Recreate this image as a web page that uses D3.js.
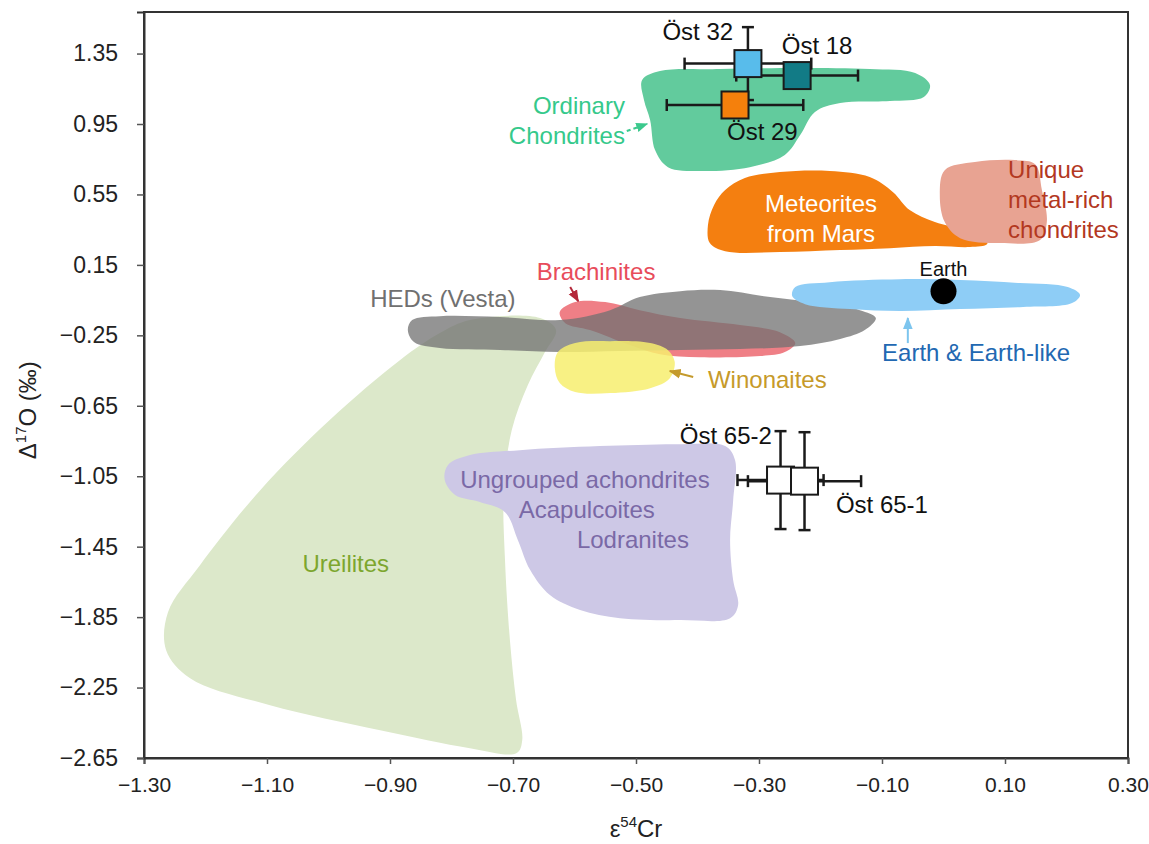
<!DOCTYPE html>
<html>
<head>
<meta charset="utf-8">
<script src="https://cdn.jsdelivr.net/npm/d3@7"></script>
<style>
  html, body { margin: 0; padding: 0; background: #ffffff; }
  svg { display: block; font-family: "Liberation Sans", Arial, Helvetica, sans-serif; }
</style>
</head>
<body>
<svg id="chart" width="1149" height="844"></svg>
<script>
// ε54Cr vs Δ17O fields for meteorite groups, with the Öst samples plotted on top.

// Axis ticks
const xTicks = [-1.30, -1.10, -0.90, -0.70, -0.50, -0.30, -0.10, 0.10, 0.30];
const yTicks = [1.35, 0.95, 0.55, 0.15, -0.25, -0.65, -1.05, -1.45, -1.85, -2.25, -2.65];

// Group fields: outline vertices as [ε54Cr, Δ17O]
const ureilites = [[-0.770,-0.163],[-0.656,-0.152],[-0.630,-0.220],[-0.648,-0.345],[-0.676,-0.533],[-0.702,-0.788],[-0.715,-1.129],[-0.713,-1.526],[-0.705,-1.981],[-0.695,-2.321],[-0.685,-2.549],[-0.694,-2.622],[-0.770,-2.594],[-0.916,-2.492],[-1.095,-2.350],[-1.225,-2.197],[-1.264,-2.038],[-1.261,-1.822],[-1.209,-1.555],[-1.111,-1.129],[-0.998,-0.731],[-0.884,-0.391],[-0.819,-0.237]];
const ungrouped = [[-0.806,-0.987],[-0.770,-0.930],[-0.689,-0.902],[-0.559,-0.879],[-0.428,-0.868],[-0.355,-0.879],[-0.339,-0.958],[-0.342,-1.186],[-0.347,-1.413],[-0.342,-1.640],[-0.334,-1.782],[-0.347,-1.856],[-0.428,-1.867],[-0.526,-1.856],[-0.591,-1.810],[-0.640,-1.725],[-0.672,-1.583],[-0.692,-1.413],[-0.713,-1.254],[-0.754,-1.197],[-0.794,-1.157],[-0.811,-1.072]];
const brachinites = [[-0.624,-0.118],[-0.599,-0.061],[-0.550,-0.061],[-0.494,-0.107],[-0.428,-0.152],[-0.331,-0.192],[-0.266,-0.232],[-0.241,-0.294],[-0.258,-0.345],[-0.298,-0.368],[-0.396,-0.374],[-0.461,-0.357],[-0.510,-0.305],[-0.575,-0.220],[-0.615,-0.181]];
const heds = [[-0.864,-0.163],[-0.819,-0.141],[-0.721,-0.146],[-0.624,-0.163],[-0.542,-0.107],[-0.494,-0.033],[-0.428,0.001],[-0.363,0.007],[-0.282,-0.033],[-0.201,-0.067],[-0.136,-0.107],[-0.110,-0.152],[-0.128,-0.220],[-0.168,-0.271],[-0.233,-0.311],[-0.331,-0.328],[-0.428,-0.333],[-0.526,-0.339],[-0.624,-0.345],[-0.721,-0.333],[-0.819,-0.322],[-0.861,-0.288],[-0.871,-0.220]];
const winonaites = [[-0.627,-0.345],[-0.599,-0.294],[-0.542,-0.283],[-0.477,-0.294],[-0.448,-0.334],[-0.437,-0.402],[-0.445,-0.493],[-0.477,-0.550],[-0.542,-0.578],[-0.599,-0.572],[-0.624,-0.521],[-0.632,-0.436]];
const earthLike = [[-0.241,0.024],[-0.185,0.052],[-0.071,0.069],[0.027,0.064],[0.124,0.047],[0.202,0.024],[0.222,-0.021],[0.209,-0.067],[0.124,-0.090],[0.027,-0.101],[-0.071,-0.112],[-0.152,-0.101],[-0.225,-0.073],[-0.246,-0.027]];
const mars = [[-0.355,0.575],[-0.323,0.643],[-0.266,0.677],[-0.185,0.683],[-0.120,0.649],[-0.082,0.563],[-0.055,0.461],[-0.014,0.393],[0.035,0.348],[0.067,0.308],[0.071,0.268],[0.043,0.251],[-0.014,0.257],[-0.087,0.245],[-0.168,0.234],[-0.266,0.223],[-0.355,0.228],[-0.380,0.274],[-0.383,0.376],[-0.373,0.490]];
const metalRich = [[0.002,0.688],[0.051,0.734],[0.116,0.745],[0.149,0.722],[0.160,0.575],[0.168,0.393],[0.157,0.291],[0.092,0.274],[0.027,0.302],[0.002,0.393],[-0.006,0.546]];
const ordinary = [[-0.490,1.200],[-0.461,1.251],[-0.363,1.262],[-0.233,1.268],[-0.120,1.262],[-0.046,1.239],[-0.022,1.171],[-0.032,1.103],[-0.087,1.080],[-0.168,1.069],[-0.209,1.018],[-0.233,0.887],[-0.258,0.774],[-0.315,0.705],[-0.396,0.683],[-0.448,0.705],[-0.469,0.802],[-0.477,0.972],[-0.487,1.086]];

// Samples: ε54Cr, Δ17O and their uncertainties
const sampleNames = ["Öst 32", "Öst 18", "Öst 29", "Öst 65-2", "Öst 65-1"];
const sampleCr    = [-0.318, -0.238, -0.339, -0.265, -0.226];
const sampleCrErr = [0.103, 0.099, 0.111, 0.070, 0.092];
const sampleO     = [1.293, 1.225, 1.058, -1.072, -1.078];
const sampleOErr  = [0.207, 0.060, 0.060, 0.278, 0.278];
const sampleFill  = ["#58BCEB", "#127B86", "#F5800C", "#ffffff", "#ffffff"];

// Earth reference point
const earth = [0.0, 0.0];

const svg = d3.select("#chart");
const W = 1149, H = 844;
const margin = { left: 144, right: 21, top: 12, bottom: 86 };

const x = d3.scaleLinear().domain([-1.30, 0.30]).range([margin.left, W - margin.right]);
const y = d3.scaleLinear().domain([-2.65, 1.586]).range([H - margin.bottom, margin.top]);

const defs = svg.append("defs");
function marker(id, color) {
  defs.append("marker")
    .attr("id", id).attr("viewBox", "0 0 10 10")
    .attr("refX", 9).attr("refY", 5)
    .attr("markerWidth", 6).attr("markerHeight", 6)
    .attr("orient", "auto-start-reverse")
    .append("path").attr("d", "M0,1 L10,5 L0,9 Z").attr("fill", color);
}
marker("arr-green", "#3CC98D");
marker("arr-red", "#B4283A");
marker("arr-gold", "#C49A2C");
marker("arr-blue", "#7DC5EE");

const blob = d3.line()
  .x(d => x(d[0])).y(d => y(d[1]))
  .curve(d3.curveCatmullRomClosed.alpha(0.5));

const fields = [
  { pts: ureilites,   fill: "#DCE8CA", op: 1 },
  { pts: ungrouped,   fill: "#CDC8E6", op: 1 },
  { pts: brachinites, fill: "#EF7F86", op: 1 },
  { pts: heds,        fill: "#707070", op: 0.75 },
  { pts: winonaites,  fill: "#F7EF6E", op: 0.85 },
  { pts: earthLike,   fill: "#8ECDF6", op: 1 },
  { pts: mars,        fill: "#F47F10", op: 1 },
  { pts: metalRich,   fill: "#E8A392", op: 1 },
  { pts: ordinary,    fill: "#62CB9D", op: 1 }
];

svg.append("g").selectAll("path").data(fields).join("path")
  .attr("d", d => blob(d.pts))
  .attr("fill", d => d.fill)
  .attr("fill-opacity", d => d.op);

// Field labels
const fieldLabels = [
  { t: "Ordinary",  x: -0.518, y: 1.006, c: "#35C98B", a: "end" },
  { t: "Chondrites", x: -0.518, y: 0.836, c: "#35C98B", a: "end" },
  { t: "Meteorites", x: -0.199, y: 0.450, c: "#ffffff", a: "middle" },
  { t: "from Mars",  x: -0.199, y: 0.279, c: "#ffffff", a: "middle" },
  { t: "Unique",     x: 0.105, y: 0.643, c: "#B3381F", a: "start" },
  { t: "metal-rich", x: 0.105, y: 0.473, c: "#B3381F", a: "start" },
  { t: "chondrites", x: 0.105, y: 0.302, c: "#B3381F", a: "start" },
  { t: "Earth & Earth-like", x: 0.053, y: -0.396, c: "#2268B2", a: "middle" },
  { t: "HEDs (Vesta)", x: -0.814, y: -0.090, c: "#707070", a: "middle" },
  { t: "Brachinites", x: -0.565, y: 0.064, c: "#E84C5B", a: "middle" },
  { t: "Winonaites", x: -0.383, y: -0.550, c: "#C69A2A", a: "start" },
  { t: "Ureilites", x: -0.972, y: -1.595, c: "#7DA62E", a: "middle" },
  { t: "Ungrouped achondrites", x: -0.583, y: -1.118, c: "#7A69A6", a: "middle" },
  { t: "Acapulcoites", x: -0.580, y: -1.288, c: "#7A69A6", a: "middle" },
  { t: "Lodranites", x: -0.505, y: -1.458, c: "#7A69A6", a: "middle" }
];
svg.append("g").selectAll("text").data(fieldLabels).join("text")
  .attr("x", d => x(d.x)).attr("y", d => y(d.y))
  .attr("text-anchor", d => d.a)
  .attr("fill", d => d.c)
  .attr("font-size", 24)
  .text(d => d.t);

// Pointer arrows from labels to their fields
const pointers = [
  { from: [-0.515, 0.910], to: [-0.482, 0.950], c: "#3CC98D", m: "arr-green", dash: "4,3" },
  { from: [-0.607, 0.024], to: [-0.594, -0.056], c: "#B4283A", m: "arr-red", dash: null },
  { from: [-0.407, -0.487], to: [-0.445, -0.453], c: "#C49A2C", m: "arr-gold", dash: null },
  { from: [-0.058, -0.294], to: [-0.058, -0.152], c: "#7DC5EE", m: "arr-blue", dash: null }
];
svg.append("g").selectAll("line").data(pointers).join("line")
  .attr("x1", d => x(d.from[0])).attr("y1", d => y(d.from[1]))
  .attr("x2", d => x(d.to[0])).attr("y2", d => y(d.to[1]))
  .attr("stroke", d => d.c).attr("stroke-width", 2)
  .attr("stroke-dasharray", d => d.dash)
  .attr("marker-end", d => `url(#${d.m})`);

// Earth
svg.append("circle")
  .attr("cx", x(earth[0])).attr("cy", y(earth[1])).attr("r", 13)
  .attr("fill", "#000");
svg.append("text")
  .attr("x", x(earth[0])).attr("y", y(0.086))
  .attr("text-anchor", "middle").attr("font-size", 20).attr("fill", "#111")
  .text("Earth");

// Samples with 2D error bars
const samples = sampleNames.map((n, i) => ({
  name: n, cr: sampleCr[i], crErr: sampleCrErr[i],
  o: sampleO[i], oErr: sampleOErr[i], fill: sampleFill[i]
}));
const cap = 6, half = 13.5;
const gS = svg.append("g");
samples.forEach(s => {
  const g = gS.append("g").attr("stroke", "#1a1a1a").attr("stroke-width", 2.5);
  const cx = x(s.cr), cy = y(s.o);
  const x0 = x(s.cr - s.crErr), x1 = x(s.cr + s.crErr);
  const y0 = y(s.o + s.oErr), y1 = y(s.o - s.oErr);
  g.append("line").attr("x1", x0).attr("x2", x1).attr("y1", cy).attr("y2", cy);
  g.append("line").attr("x1", x0).attr("x2", x0).attr("y1", cy - cap).attr("y2", cy + cap);
  g.append("line").attr("x1", x1).attr("x2", x1).attr("y1", cy - cap).attr("y2", cy + cap);
  g.append("line").attr("x1", cx).attr("x2", cx).attr("y1", y0).attr("y2", y1);
  g.append("line").attr("x1", cx - cap).attr("x2", cx + cap).attr("y1", y0).attr("y2", y0);
  g.append("line").attr("x1", cx - cap).attr("x2", cx + cap).attr("y1", y1).attr("y2", y1);
});
gS.selectAll("rect").data(samples).join("rect")
  .attr("x", d => x(d.cr) - half).attr("y", d => y(d.o) - half)
  .attr("width", half * 2).attr("height", half * 2)
  .attr("fill", d => d.fill)
  .attr("stroke", "#1a1a1a").attr("stroke-width", 2);

const sampleLabels = [
  { t: "Öst 32", x: -0.342, y: 1.427, a: "end" },
  { t: "Öst 18", x: -0.263, y: 1.347, a: "start" },
  { t: "Öst 29", x: -0.352, y: 0.859, a: "start" },
  { t: "Öst 65-2", x: -0.279, y: -0.868, a: "end" },
  { t: "Öst 65-1", x: -0.175, y: -1.259, a: "start" }
];
svg.append("g").selectAll("text").data(sampleLabels).join("text")
  .attr("x", d => x(d.x)).attr("y", d => y(d.y))
  .attr("text-anchor", d => d.a)
  .attr("font-size", 24).attr("fill", "#111")
  .text(d => d.t);

// Frame and axes
const fmt = d3.format(".2f");
svg.append("rect")
  .attr("x", margin.left).attr("y", margin.top)
  .attr("width", W - margin.left - margin.right)
  .attr("height", H - margin.top - margin.bottom)
  .attr("fill", "none").attr("stroke", "#333").attr("stroke-width", 2);

const xAxis = svg.append("g")
  .attr("transform", `translate(0,${H - margin.bottom})`)
  .call(d3.axisBottom(x).tickValues(xTicks).tickFormat(fmt).tickSize(6).tickPadding(13));
const yAxis = svg.append("g")
  .attr("transform", `translate(${margin.left},0)`)
  .call(d3.axisLeft(y).tickValues(yTicks).tickFormat(fmt).tickSize(7).tickPadding(19));
[xAxis, yAxis].forEach(a => {
  a.select(".domain").attr("stroke", "#333").attr("stroke-width", 2);
  a.selectAll(".tick line").attr("stroke", "#555").attr("stroke-width", 1.5);
  a.selectAll(".tick text")
    .attr("font-family", "'Liberation Sans', Arial, sans-serif")
    .attr("fill", "#222");
});
xAxis.selectAll(".tick text").attr("font-size", 21);
yAxis.selectAll(".tick text").attr("font-size", 23);

// Axis titles
const xt = svg.append("text")
  .attr("x", x(-0.50)).attr("y", 837)
  .attr("text-anchor", "middle").attr("font-size", 24).attr("fill", "#222");
xt.append("tspan").text("ε");
xt.append("tspan").attr("font-size", 15).attr("dy", -10).text("54");
xt.append("tspan").attr("dy", 10).text("Cr");

const yt = svg.append("text")
  .attr("transform", `translate(36,${y(-0.675)}) rotate(-90)`)
  .attr("text-anchor", "middle").attr("font-size", 24).attr("fill", "#222");
yt.append("tspan").text("Δ");
yt.append("tspan").attr("font-size", 15).attr("dy", -10).text("17");
yt.append("tspan").attr("dy", 10).text("O (‰)");
</script>
</body>
</html>
